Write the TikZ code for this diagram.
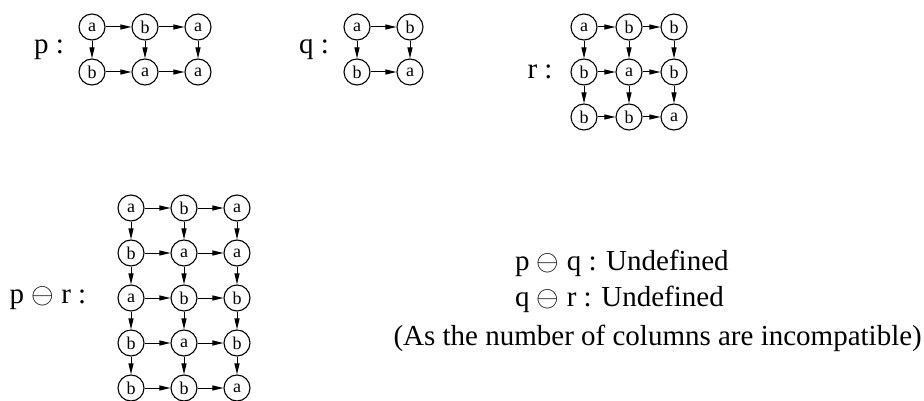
\RequirePackage{fix-cm}
\documentclass[tikz,border=0pt]{standalone}
\usepackage{fontspec}
\setmainfont{Liberation Serif}
\usetikzlibrary{arrows.meta,positioning}

% one grid of states: name, x, y, column step, rows of labels
\newcommand{\stategrid}[5]{%
  \foreach \rowlabs [count=\i, evaluate=\i as \ip using int(\i-1)] in {#5} {
    \foreach \lab [count=\j, evaluate=\j as \jp using int(\j-1)] in \rowlabs {
      \node[st] (#1-\i-\j) at ({#2+(\j-1)*#4}, {#3+(\i-1)*45}) {\lab};
      \ifnum\j>1 \draw[arr] (#1-\i-\jp) -- (#1-\i-\j); \fi
      \ifnum\i>1 \draw[arr] (#1-\ip-\j) -- (#1-\i-\j); \fi
    }
  }%
}

\begin{document}
\begin{tikzpicture}[
  x=1pt, y=-1pt,
  st/.style={circle, draw, line width=1.1pt, minimum size=26pt, inner sep=0pt,
             font=\fontsize{18}{18}\selectfont},
  arr/.style={-{Triangle[length=11pt,width=5pt]}, line width=1pt},
  lbl/.style={font=\fontsize{29}{34}\selectfont, inner sep=0pt},
]
\useasboundingbox (0,0) rectangle (924,401);

%% The three pictures p, q, r
\node[lbl] (plbl) at (49,50) {p :};
\stategrid{p}{92}{27}{53}{{a,b,a},{b,a,a}}

\node[lbl] (qlbl) at (314,50) {q :};
\stategrid{q}{357}{27}{53}{{a,b},{b,a}}

\node[lbl] (rlbl) at (540,72) {r :};
\stategrid{r}{584}{27}{45}{{a,b,b},{b,a,b},{b,b,a}}

%% Row concatenation of p and r
\node[lbl] (prlbl) at (48,298) {p $\ominus$ r :};
\stategrid{pr}{131}{208}{53}{{a,b,a},{b,a,a},{a,b,b},{b,a,b},{b,b,a}}

%% Undefined cases
\node[lbl, anchor=base west] (pq) at (515,270) {p $\ominus$ q : Undefined};
\node[lbl, anchor=base west] (qr) at (515,306) {q $\ominus$ r : Undefined};
\node[lbl, anchor=base east] (why) at (922,345) {(As the number of columns are incompatible)};

\end{tikzpicture}
\end{document}
